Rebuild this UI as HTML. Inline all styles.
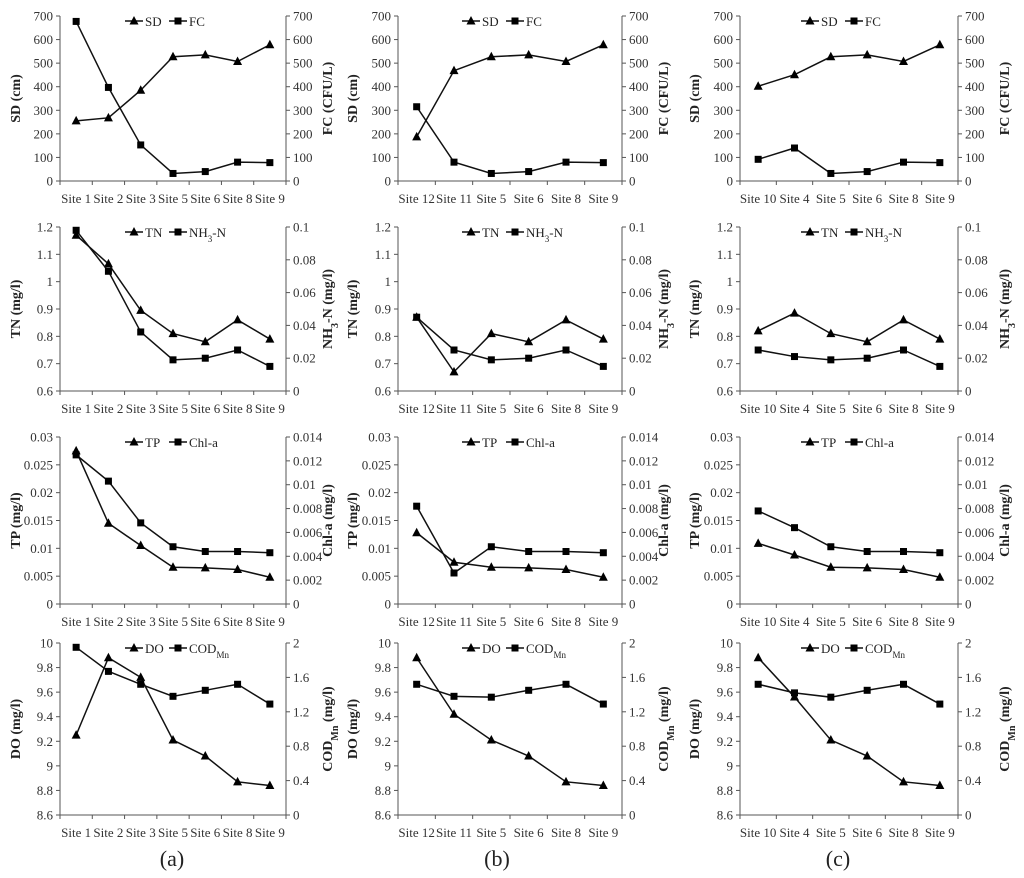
<!DOCTYPE html>
<html><head><meta charset="utf-8"><style>
html,body{margin:0;padding:0;background:#fff;}
svg{display:block;font-family:"Liberation Serif",serif;}
svg text{font-family:"Liberation Serif",serif;}
</style></head><body>
<svg id="chart" width="1024" height="878" viewBox="0 0 1024 878" xmlns="http://www.w3.org/2000/svg" font-family="Liberation Serif, serif"></svg>
<script>
// ---- data ----
const catsA = ["Site 1","Site 2","Site 3","Site 5","Site 6","Site 8","Site 9"];
const catsB = ["Site 12","Site 11","Site 5","Site 6","Site 8","Site 9"];
const catsC = ["Site 10","Site 4","Site 5","Site 6","Site 8","Site 9"];

const sdA = [255,268,385,527,535,507,578];
const fcA = [677,397,153,32,40,80,78];
const sdB = [187,468,527,535,507,578];
const fcB = [315,80,32,40,80,78];
const sdC = [402,451,527,535,507,578];
const fcC = [92,140,32,40,80,78];

const tnA = [1.17,1.065,0.895,0.81,0.78,0.86,0.79];
const nhA = [0.098,0.073,0.036,0.019,0.020,0.025,0.015];
const tnB = [0.87,0.67,0.81,0.78,0.86,0.79];
const nhB = [0.045,0.025,0.019,0.020,0.025,0.015];
const tnC = [0.82,0.885,0.81,0.78,0.86,0.79];
const nhC = [0.025,0.021,0.019,0.020,0.025,0.015];

const tpA = [0.0275,0.0145,0.0105,0.0066,0.0065,0.0062,0.0048];
const chA = [0.0125,0.0103,0.0068,0.0048,0.0044,0.0044,0.0043];
const tpB = [0.0128,0.0075,0.0066,0.0065,0.0062,0.0048];
const chB = [0.0082,0.0026,0.0048,0.0044,0.0044,0.0043];
const tpC = [0.0109,0.0088,0.0066,0.0065,0.0062,0.0048];
const chC = [0.0078,0.0064,0.0048,0.0044,0.0044,0.0043];

const doA = [9.25,9.88,9.72,9.21,9.08,8.87,8.84];
const codA = [1.95,1.67,1.52,1.38,1.45,1.52,1.29];
const doB = [9.88,9.42,9.21,9.08,8.87,8.84];
const codB = [1.52,1.38,1.37,1.45,1.52,1.29];
const doC = [9.88,9.56,9.21,9.08,8.87,8.84];
const codC = [1.52,1.42,1.37,1.45,1.52,1.29];

const ticksSD = ["0","100","200","300","400","500","600","700"];
const ticksTN = ["0.6","0.7","0.8","0.9","1","1.1","1.2"];
const ticksNH = ["0","0.02","0.04","0.06","0.08","0.1"];
const ticksTP = ["0","0.005","0.01","0.015","0.02","0.025","0.03"];
const ticksCH = ["0","0.002","0.004","0.006","0.008","0.01","0.012","0.014"];
const ticksDO = ["8.6","8.8","9","9.2","9.4","9.6","9.8","10"];
const ticksCOD = ["0","0.4","0.8","1.2","1.6","2"];

const NS = "http://www.w3.org/2000/svg";
const svg = document.getElementById("chart");
const FF = "Liberation Serif, serif";
function mk(tag, attrs, parent, txt){
  const e = document.createElementNS(NS, tag);
  for (const k in attrs) e.setAttribute(k, attrs[k]);
  if (tag === "text") e.setAttribute("font-family", FF);
  if (txt !== undefined) e.innerHTML = txt;
  (parent||svg).appendChild(e);
  return e;
}

const cols = [{l:60,r:286,tx:20,rx:332},{l:398,r:622,tx:357,rx:668},{l:740,r:958,tx:699,rx:1009}];
const rows = [{t:16,b:181},{t:227,b:391},{t:437,b:604},{t:643,b:815}];

const panels = [
 {r:0,c:0,cats:catsA,s1:sdA,s2:fcA,lt:ticksSD,rt:ticksSD,lab1:"SD",lab2:"FC",ytl:"SD (cm)",ytr:"FC (CFU/L)",key:"sd-fc-a"},
 {r:0,c:1,cats:catsB,s1:sdB,s2:fcB,lt:ticksSD,rt:ticksSD,lab1:"SD",lab2:"FC",ytl:"SD (cm)",ytr:"FC (CFU/L)",key:"sd-fc-b"},
 {r:0,c:2,cats:catsC,s1:sdC,s2:fcC,lt:ticksSD,rt:ticksSD,lab1:"SD",lab2:"FC",ytl:"SD (cm)",ytr:"FC (CFU/L)",key:"sd-fc-c"},
 {r:1,c:0,cats:catsA,s1:tnA,s2:nhA,lt:ticksTN,rt:ticksNH,lab1:"TN",lab2:"NH<tspan baseline-shift='sub' font-size='9'>3</tspan>-N",ytl:"TN (mg/l)",ytr:"NH<tspan baseline-shift='sub' font-size='10'>3</tspan>-N (mg/l)",key:"tn-nh3-a"},
 {r:1,c:1,cats:catsB,s1:tnB,s2:nhB,lt:ticksTN,rt:ticksNH,lab1:"TN",lab2:"NH<tspan baseline-shift='sub' font-size='9'>3</tspan>-N",ytl:"TN (mg/l)",ytr:"NH<tspan baseline-shift='sub' font-size='10'>3</tspan>-N (mg/l)",key:"tn-nh3-b"},
 {r:1,c:2,cats:catsC,s1:tnC,s2:nhC,lt:ticksTN,rt:ticksNH,lab1:"TN",lab2:"NH<tspan baseline-shift='sub' font-size='9'>3</tspan>-N",ytl:"TN (mg/l)",ytr:"NH<tspan baseline-shift='sub' font-size='10'>3</tspan>-N (mg/l)",key:"tn-nh3-c"},
 {r:2,c:0,cats:catsA,s1:tpA,s2:chA,lt:ticksTP,rt:ticksCH,lab1:"TP",lab2:"Chl-a",ytl:"TP (mg/l)",ytr:"Chl-a (mg/l)",key:"tp-chla-a"},
 {r:2,c:1,cats:catsB,s1:tpB,s2:chB,lt:ticksTP,rt:ticksCH,lab1:"TP",lab2:"Chl-a",ytl:"TP (mg/l)",ytr:"Chl-a (mg/l)",key:"tp-chla-b"},
 {r:2,c:2,cats:catsC,s1:tpC,s2:chC,lt:ticksTP,rt:ticksCH,lab1:"TP",lab2:"Chl-a",ytl:"TP (mg/l)",ytr:"Chl-a (mg/l)",key:"tp-chla-c"},
 {r:3,c:0,cats:catsA,s1:doA,s2:codA,lt:ticksDO,rt:ticksCOD,lab1:"DO",lab2:"COD<tspan baseline-shift='sub' font-size='9'>Mn</tspan>",ytl:"DO (mg/l)",ytr:"COD<tspan baseline-shift='sub' font-size='10'>Mn</tspan> (mg/l)",key:"do-cod-a"},
 {r:3,c:1,cats:catsB,s1:doB,s2:codB,lt:ticksDO,rt:ticksCOD,lab1:"DO",lab2:"COD<tspan baseline-shift='sub' font-size='9'>Mn</tspan>",ytl:"DO (mg/l)",ytr:"COD<tspan baseline-shift='sub' font-size='10'>Mn</tspan> (mg/l)",key:"do-cod-b"},
 {r:3,c:2,cats:catsC,s1:doC,s2:codC,lt:ticksDO,rt:ticksCOD,lab1:"DO",lab2:"COD<tspan baseline-shift='sub' font-size='9'>Mn</tspan>",ytl:"DO (mg/l)",ytr:"COD<tspan baseline-shift='sub' font-size='10'>Mn</tspan> (mg/l)",key:"do-cod-c"}
];

function tri(g,x,y){ return mk("path",{d:`M${x} ${y-5}L${x+4.5} ${y+3.5}L${x-4.5} ${y+3.5}Z`,fill:"#000"},g); }
function sq(g,x,y){ return mk("rect",{x:x-3.5,y:y-3.5,width:7,height:7,fill:"#000"},g); }

panels.forEach(p=>{
  const C=cols[p.c], R=rows[p.r];
  const g = mk("g",{});
  
  
  const lmin=+p.lt[0], lmax=+p.lt[p.lt.length-1], rmin=+p.rt[0], rmax=+p.rt[p.rt.length-1];
  const yL = v => R.b - (v-lmin)/(lmax-lmin)*(R.b-R.t);
  const yR = v => R.b - (v-rmin)/(rmax-rmin)*(R.b-R.t);
  const n=p.cats.length, bw=(C.r-C.l)/n;
  const xS = i => C.l + bw*(i+0.5);
  const ax = mk("path",{d:`M${C.l} ${R.t}V${R.b}H${C.r}V${R.t}`,stroke:"#555",fill:"none","stroke-width":1},g);
  
  
  p.lt.forEach(t=>{const y=yL(+t); mk("line",{x1:C.l-4,x2:C.l,y1:y,y2:y,stroke:"#555"},g);
    const e=mk("text",{x:C.l-7,y:y+4.5,"text-anchor":"end","font-size":13,fill:"#333"},g,t);
     });
  p.rt.forEach(t=>{const y=yR(+t); mk("line",{x1:C.r,x2:C.r+4,y1:y,y2:y,stroke:"#555"},g);
    const e=mk("text",{x:C.r+7,y:y+4.5,"text-anchor":"start","font-size":13,fill:"#333"},g,t);
     });
  for(let i=0;i<=n;i++){const x=C.l+bw*i; mk("line",{x1:x,x2:x,y1:R.b,y2:R.b+4,stroke:"#555"},g);}
  p.cats.forEach((c,i)=>{const e=mk("text",{x:xS(i),y:R.b+22,"text-anchor":"middle","font-size":13,fill:"#333"},g,c);
     });
  const my=(R.t+R.b)/2;
  const t1=mk("text",{x:C.tx,y:my,transform:`rotate(-90 ${C.tx} ${my})`,"text-anchor":"middle","font-size":14,"font-weight":"bold",fill:"#222"},g,p.ytl);
   
  const t2=mk("text",{x:C.rx,y:my,transform:`rotate(-90 ${C.rx} ${my})`,"text-anchor":"middle","font-size":14,"font-weight":"bold",fill:"#222"},g,p.ytr);
   
  const l1=mk("polyline",{points:p.s1.map((v,i)=>xS(i)+","+yL(v)).join(" "),fill:"none",stroke:"#111","stroke-width":1.5},g);
   
  p.s1.forEach((v,i)=>tri(g,xS(i),yL(v)));
  const l2=mk("polyline",{points:p.s2.map((v,i)=>xS(i)+","+yR(v)).join(" "),fill:"none",stroke:"#111","stroke-width":1.5},g);
   
  p.s2.forEach((v,i)=>sq(g,xS(i),yR(v)));
  const lx=(C.l+C.r)/2-48, ly=R.t+5;
  const lg=mk("g",{},g);
   
  mk("line",{x1:lx,x2:lx+18,y1:ly,y2:ly,stroke:"#111","stroke-width":1.5},lg); tri(lg,lx+9,ly);
  mk("text",{x:lx+20,y:ly+5,"font-size":13,fill:"#222"},lg,p.lab1);
  const lx2=lx+44;
  mk("line",{x1:lx2,x2:lx2+18,y1:ly,y2:ly,stroke:"#111","stroke-width":1.5},lg); sq(lg,lx2+9,ly);
  mk("text",{x:lx2+20,y:ly+5,"font-size":13,fill:"#222"},lg,p.lab2);
});
[["(a)",172],["(b)",497],["(c)",838]].forEach(([s,x])=>{
  const e=mk("text",{x:x,y:866,"text-anchor":"middle","font-size":22,fill:"#222"},svg,s);
   
});
</script>
</body></html>
